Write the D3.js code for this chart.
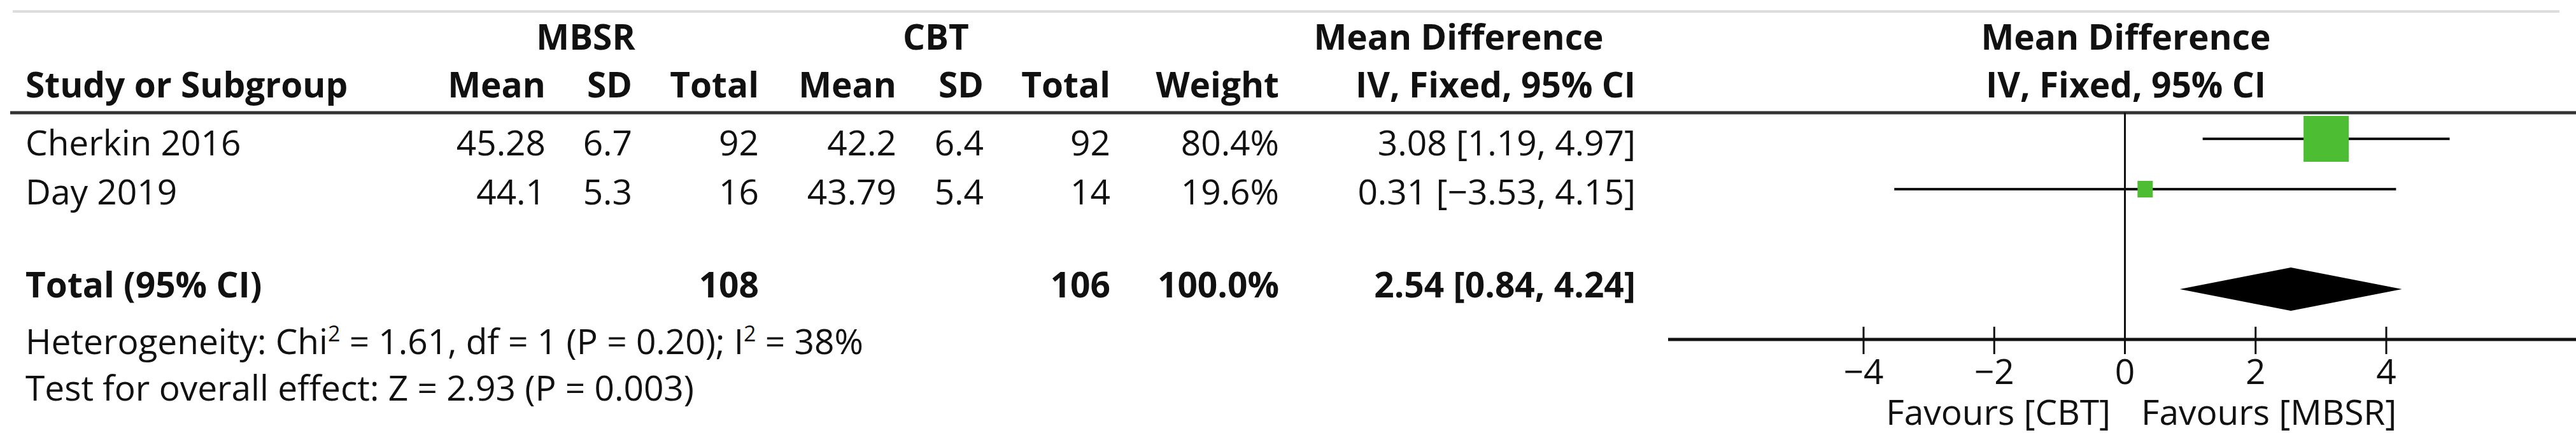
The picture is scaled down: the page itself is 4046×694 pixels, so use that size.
<!DOCTYPE html>
<html><head><meta charset="utf-8">
<script src="https://cdn.jsdelivr.net/npm/d3@7/dist/d3.min.js"></script>
<style>body{margin:0;background:#fff}svg text{font-family:"Open Sans",sans-serif;fill:#111}</style>
</head><body><svg id="c" width="4046" height="694"></svg>
<script>
const studies = ["Cherkin 2016", "Day 2019"];
const mbsrMean = ["45.28", "44.1"], mbsrSD = ["6.7", "5.3"], mbsrN = [92, 16];
const cbtMean = ["42.2", "43.79"], cbtSD = ["6.4", "5.4"], cbtN = [92, 14];
const weights = [80.4, 19.6];
const md = [3.08, 0.31], lo = [1.19, -3.53], hi = [4.97, 4.15];
const total = {n1: 108, n2: 106, w: "100.0%", md: 2.54, lo: 0.84, hi: 4.24};
const ticks = [-4, -2, 0, 2, 4];

const svg = d3.select("#c");
const fs = 55;
const x = d3.scaleLinear().domain([-4, 4]).range([2927, 3748]);
const rowY = d3.scalePoint().domain(studies).range([244, 321]);
const lineY = d3.scalePoint().domain(studies).range([218, 297]);

function t(txt, X, Y, anchor, bold) {
  return svg.append("text").attr("x", X).attr("y", Y).attr("text-anchor", anchor || "start")
    .attr("font-size", fs).attr("font-weight", bold ? "bold" : "normal").text(txt);
}
svg.append("line").attr("x1", 20).attr("x2", 4020).attr("y1", 18).attr("y2", 18).attr("stroke", "#ddd").attr("stroke-width", 4);
t("MBSR", 920, 78, "middle", 1); t("CBT", 1470, 78, "middle", 1);
t("Mean Difference", 2291, 78, "middle", 1); t("Mean Difference", 3339, 78, "middle", 1);
t("Study or Subgroup", 40, 153, "start", 1);
const cols = [857, 993, 1192, 1408, 1545, 1744, 2009, 2569];
["Mean", "SD", "Total", "Mean", "SD", "Total", "Weight", "IV, Fixed, 95% CI"].forEach((h, i) => t(h, cols[i], 153, "end", 1));
t("IV, Fixed, 95% CI", 3339, 153, "middle", 1);
svg.append("line").attr("x1", 16).attr("x2", 4046).attr("y1", 177).attr("y2", 177).attr("stroke", "#333").attr("stroke-width", 5);

studies.forEach((s, i) => {
  const y = rowY(s);
  t(s, 40, y);
  [mbsrMean[i], mbsrSD[i], mbsrN[i], cbtMean[i], cbtSD[i], cbtN[i], weights[i].toFixed(1) + "%",
   md[i].toFixed(2) + " [" + lo[i].toFixed(2) + ", " + hi[i].toFixed(2) + "]"].forEach((v, j) => t(String(v).replace("-", "−"), cols[j], y, "end"));
});
const ty = 467;
t("Total (95% CI)", 40, ty, "start", 1);
t(total.n1, cols[2], ty, "end", 1); t(total.n2, cols[5], ty, "end", 1); t(total.w, cols[6], ty, "end", 1);
t(total.md.toFixed(2) + " [" + total.lo.toFixed(2) + ", " + total.hi.toFixed(2) + "]", cols[7], ty, "end", 1);

const h = svg.append("text").attr("x", 40).attr("y", 556).attr("font-size", fs);
h.append("tspan").text("Heterogeneity: Chi");
h.append("tspan").attr("font-size", 34).attr("dy", -20).text("2");
h.append("tspan").attr("dy", 20).text(" = 1.61, df = 1 (P = 0.20); I");
h.append("tspan").attr("font-size", 34).attr("dy", -20).text("2");
h.append("tspan").attr("dy", 20).text(" = 38%");
t("Test for overall effect: Z = 2.93 (P = 0.003)", 40, 629);

svg.append("line").attr("x1", x(0)).attr("x2", x(0)).attr("y1", 177).attr("y2", 533).attr("stroke", "#111").attr("stroke-width", 3);
studies.forEach((s, i) => {
  const y = lineY(s);
  svg.append("line").attr("x1", x(lo[i])).attr("x2", x(hi[i])).attr("y1", y).attr("y2", y).attr("stroke", "#111").attr("stroke-width", 4);
  const wd = i === 0 ? 71 : 24, ht = i === 0 ? 72 : 26;
  svg.append("rect").attr("x", x(md[i]) - wd / 2).attr("y", y - ht / 2).attr("width", wd).attr("height", ht).attr("fill", "#4dbd33");
});
svg.append("path").attr("d", `M${x(total.lo)},454 L${x(total.md)},420 L${x(total.hi)},454 L${x(total.md)},488 Z`).attr("fill", "#000");
svg.append("line").attr("x1", 2620).attr("x2", 4046).attr("y1", 533).attr("y2", 533).attr("stroke", "#111").attr("stroke-width", 5);
ticks.forEach(v => {
  svg.append("line").attr("x1", x(v)).attr("x2", x(v)).attr("y1", 513).attr("y2", 556).attr("stroke", "#111").attr("stroke-width", 3);
  t(String(v).replace("-", "−"), x(v), 603, "middle");
});
t("Favours [CBT]", 3315, 667, "end"); t("Favours [MBSR]", 3363, 667, "start");
</script></body></html>
